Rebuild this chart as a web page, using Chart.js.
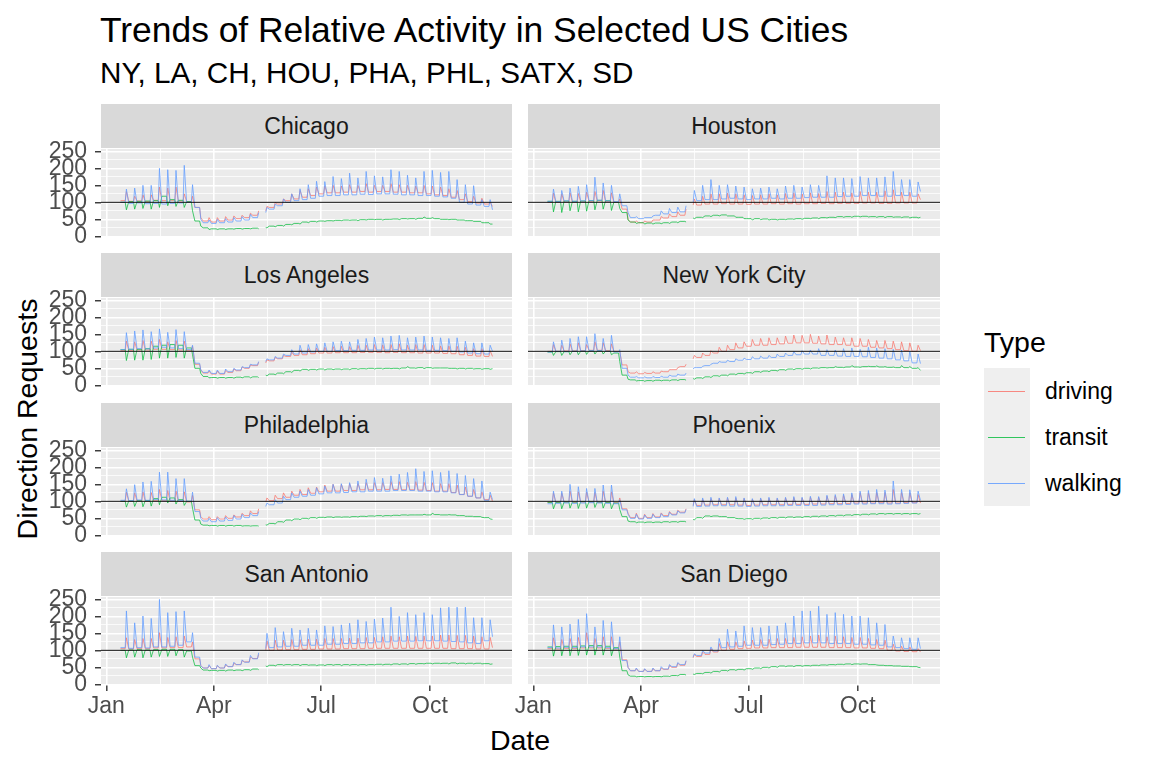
<!DOCTYPE html>
<html><head><meta charset="utf-8">
<script src="https://cdn.jsdelivr.net/npm/chart.js@4.4.1/dist/chart.umd.min.js"></script>
<style>
html,body{margin:0;padding:0;background:#fff;width:1152px;height:768px;overflow:hidden;font-family:"Liberation Sans",Arial,Helvetica,sans-serif;}
.abs{position:absolute;white-space:nowrap;}
#title{left:100px;top:12px;font-size:35.4px;line-height:36px;color:#000;}
#subtitle{left:100px;top:58px;font-size:29.7px;line-height:30px;color:#000;}
.strip{position:absolute;background:#D9D9D9;color:#1A1A1A;font-size:23px;line-height:23px;display:flex;align-items:center;justify-content:center;}
canvas{position:absolute;}
.legkey{position:absolute;height:1px;}
</style></head><body>
<div id="title" class="abs">Trends of Relative Activity in Selected US Cities</div>
<div id="subtitle" class="abs">NY, LA, CH, HOU, PHA, PHL, SATX, SD</div>
<div id="ylab" class="abs" style="left:27px;top:419px;font-size:28.5px;line-height:29px;transform:translate(-50%,-50%) rotate(-90deg);">Direction Requests</div>
<div id="xlab" class="abs" style="left:520px;top:740px;font-size:28.5px;line-height:29px;transform:translate(-50%,-50%);">Date</div>
<div class="abs" style="left:984px;top:328px;font-size:28.5px;line-height:29px;">Type</div>
<div class="abs" style="left:984px;top:368px;width:46px;height:138px;background:#EFEFEF;"></div>
<div id="legend"></div>
<div id="panels"></div>
<script>
// ---------------- DATA ----------------
const cities = ['Chicago','Houston','Los Angeles','New York City','Philadelphia','Phoenix','San Antonio','San Diego'];
const types = ['driving','transit','walking'];
const xTickValues = [0, 45.5, 91, 136.5, 182, 228, 274, 320];
const xTickLabels = {0:'Jan', 91:'Apr', 182:'Jul', 274:'Oct'};
const yTickValues = [0,25,50,75,100,125,150,175,200,225,250];
const firstMonday = 12;          // 13 Jan 2020 as day of year (0 = 1 Jan)
const missingDays = [131, 132];  // 11-12 May 2020 missing

// weekday level (Mon & Fri of each week, plus last Monday) and Saturday value per week
const chicagoWalkingBase = [100,97,98,96,97,95,97,98,100, 85,40,38,40,42,45,48,55, 70,80,90,100,105,108,112, 118,120,120,122,122,124,123,125,125,124,122,122,120, 120,118,116,112,100,95,92,88, 78];
const chicagoWalkingSat  = [139,142,150,150,200,196,194,209,152, 50,48,50,52,55,58,65,70, 85,95,110,125,140,152,162, 161,176,170,186,172,191,178,175,196,191,180,172,191, 194,188,191,167,152,149,108,108];
const chicagoDrivingBase = [105,103,104,102,106,105,106,104,102, 85,45,42,45,48,52,55,62, 75,85,95,105,110,115,120, 125,128,128,130,130,132,130,132,132,130,130,128,128, 125,122,120,115,108,102,98,95, 88];
const chicagoDrivingSat  = [132,118,122,122,145,142,145,125,118, 55,55,55,58,60,62,68,75, 88,100,110,125,135,140,145, 148,150,148,152,150,155,150,150,155,152,150,148,150, 148,145,140,135,125,118,112,100];
const chicagoTransitBase = [100,102,103,104,105,118,108,106,102, 45,25,22,22,22,23,23,24, 26,30,32,35,38,42,44, 45,46,47,48,48,49,50,50,50,51,52,52,53, 53,52,50,50,48,46,44,40, 36];
const chicagoTransitSat  = [78,80,82,80,85,90,88,85,75, 30,20,20,20,21,21,22,22, 25,28,30,34,36,40,42, 44,45,46,47,46,48,49,48,50,49,51,50,57, 55,50,49,48,46,44,40,36];

const houstonWalkingBase = [103,102,104,103,104,105,106,104,102, 90,55,52,55,62,66,70,72, 100,105,108,108,110,112,110, 108,110,110,112,110,112,112,114,115,115,115,117,118, 118,120,120,118,118,120,120,118, 132];
const houstonWalkingSat  = [139,135,142,147,152,174,157,150,125, 70,58,55,60,75,82,86,90, 135,150,167,150,152,148,145, 140,142,145,140,148,150,145,152,150,178,172,172,170, 176,172,172,175,191,167,167,160];
const houstonDrivingBase = [100,100,101,100,102,103,104,102,100, 80,42,40,42,48,54,58,62, 92,92,95,95,96,95,95, 94,95,95,96,95,96,95,96,96,97,96,97,97, 97,98,98,97,97,98,98,98, 108];
const houstonDrivingSat  = [127,125,128,126,130,132,135,128,110, 50,45,45,48,58,66,72,80, 110,118,125,125,127,125,122, 120,122,125,122,126,128,125,128,126,132,130,130,128, 132,130,130,134,137,130,130,125];
const houstonTransitBase = [103,103,104,103,104,105,106,105,100, 70,42,40,39,39,40,42,44, 54,56,60,62,63,60,56, 52,52,51,50,50,51,52,53,54,55,56,58,58, 59,59,58,58,58,57,57,56, 56];
const houstonTransitSat  = [72,70,75,72,74,78,80,76,82, 48,38,36,36,37,38,40,42, 52,55,58,60,60,56,52, 48,49,48,48,49,50,50,52,52,54,55,56,56, 57,57,56,55,56,55,54,54];

const laWalkingBase = [105,106,108,107,110,112,110,108,105, 65,38,35,35,40,45,52,60, 70,75,80,88,92,95,98, 100,100,102,102,103,103,104,104,104,105,104,104,104, 103,103,102,100,98,95,93,92, 100];
const laWalkingSat  = [155,160,163,158,166,156,164,158,118, 45,45,45,48,50,55,62,70, 78,85,92,105,118,120,122, 125,128,130,128,135,138,142,140,145,147,140,142,145, 142,140,138,140,130,125,125,118];
const laDrivingBase = [102,103,104,104,106,106,105,104,102, 62,36,33,33,38,43,50,58, 66,72,78,85,88,90,93, 95,95,96,96,96,97,97,97,96,97,96,96,95, 95,95,94,93,90,88,86,85, 85];
const laDrivingSat  = [130,128,132,130,135,128,132,130,115, 45,42,42,44,48,54,60,68, 75,82,88,98,105,108,110, 112,114,115,114,118,118,120,119,120,122,118,120,120, 118,116,116,115,112,108,108,102];
const laTransitBase = [105,106,106,108,115,118,120,118,110, 50,26,23,23,23,24,25,25, 30,33,36,40,44,47,47, 48,48,48,48,49,49,50,50,50,50,51,51,52, 52,51,51,50,50,50,49,49, 49];
const laTransitSat  = [73,74,74,76,80,80,82,80,90, 35,22,21,21,21,22,22,23, 28,31,34,38,42,44,45, 45,46,46,46,47,48,48,48,49,48,55,50,49, 50,51,50,48,48,48,47,47];

const nycWalkingBase = [98,100,99,100,101,102,102,100,98, 50,24,22,22,23,24,27,30, 48,52,58,65,68,70,74, 76,78,80,82,85,88,90,92,92,88,88,86,85, 85,84,82,80,78,75,72,66, 64];
const nycWalkingSat  = [128,133,138,143,143,152,138,147,105, 30,26,25,26,27,30,33,36, 52,56,62,70,74,78,80, 84,86,88,92,95,100,102,104,108,105,104,108,110, 106,112,110,108,106,104,100,92];
const nycDrivingBase = [100,100,101,101,102,103,103,102,100, 60,36,34,35,36,40,46,55, 78,82,88,95,100,105,110, 115,118,118,120,122,124,125,125,124,122,120,120,118, 115,115,112,110,108,105,102,100, 102];
const nycDrivingSat  = [120,118,122,125,120,128,125,122,100, 40,40,38,40,42,46,52,62, 88,95,102,112,118,125,128, 135,138,140,140,145,148,147,150,145,148,142,140,140, 138,135,132,132,130,128,125,118];
const nycTransitBase = [98,99,99,100,100,101,101,100,95, 30,16,14,14,15,15,16,17, 20,22,25,28,30,33,35, 37,40,42,44,46,48,49,50,51,52,52,53,54, 54,55,55,54,53,52,52,50, 44];
const nycTransitSat  = [88,88,90,90,91,92,92,90,70, 18,13,12,12,13,13,14,15, 18,20,23,26,28,31,33, 35,38,40,42,44,46,47,48,50,51,55,52,58, 53,56,57,55,54,58,55,52];

const phlWalkingBase = [103,102,104,103,105,104,103,102,100, 70,42,40,42,44,48,52,58, 85,90,95,105,112,115,118, 122,125,125,126,128,128,130,130,130,132,132,132,130, 130,128,128,125,120,115,110,103, 105];
const phlWalkingSat  = [137,149,157,159,186,186,167,167,127, 50,50,52,54,58,62,66,70, 95,105,115,125,130,135,140, 145,150,152,155,160,165,170,168,175,180,185,196,188, 190,185,190,182,176,167,160,127];
const phlDrivingBase = [100,100,101,100,102,102,101,100,98, 75,48,46,48,50,54,58,64, 98,102,108,112,118,120,124, 128,130,130,132,132,134,134,134,135,135,134,134,133, 132,130,130,126,120,115,110,105, 100];
const phlDrivingSat  = [127,125,128,126,135,132,130,128,118, 55,55,55,58,60,65,72,78, 110,118,125,130,135,140,142, 148,150,150,152,152,155,155,155,158,158,156,158,156, 155,152,152,148,142,135,128,118];
const phlTransitBase = [100,101,102,102,108,112,110,105,100, 45,30,29,29,29,29,28,28, 31,35,40,45,48,50,52, 53,54,54,54,55,56,57,58,58,59,60,60,60, 60,61,60,60,58,56,55,52, 47];
const phlTransitSat  = [83,85,84,86,90,95,92,88,80, 33,28,27,27,27,27,27,27, 30,33,38,43,46,48,50, 52,52,53,53,54,55,56,56,57,58,59,60,62, 65,60,61,58,56,55,53,48];

const phxWalkingBase = [93,94,95,94,95,96,95,94,93, 75,50,48,50,52,55,60,66, 85,85,86,87,87,86,86, 85,86,87,87,87,88,88,88,88,89,90,90,91, 92,92,93,93,92,93,94,95, 103];
const phxWalkingSat  = [130,130,150,143,138,138,148,148,105, 62,62,60,62,64,68,72,76, 108,110,112,110,112,114,110, 108,110,112,110,112,114,112,115,114,118,120,122,125, 130,132,135,133,160,135,134,130];
const phxDrivingBase = [97,97,98,97,98,98,97,97,96, 78,52,50,52,54,58,62,68, 88,88,89,90,90,90,89, 88,89,90,90,90,91,91,91,92,92,93,93,94, 95,95,95,96,95,95,96,96, 95];
const phxDrivingSat  = [125,124,130,128,127,126,130,128,110, 65,65,62,64,66,70,74,78, 105,106,108,108,110,110,108, 106,108,109,108,110,111,110,112,112,115,116,118,120, 125,125,126,126,135,126,125,120];
const phxTransitBase = [97,97,98,98,99,99,98,97,95, 55,40,39,39,39,40,40,41, 47,52,57,57,55,52,49, 49,50,51,52,53,54,54,55,56,57,58,59,60, 61,62,63,64,64,64,64,64, 64];
const phxTransitSat  = [78,78,80,79,80,82,80,78,76, 42,37,37,37,37,38,38,39, 45,50,55,55,52,50,47, 47,48,49,50,51,52,52,53,54,55,56,57,58, 59,60,61,62,62,62,62,62];

const satxWalkingBase = [108,106,108,107,110,110,112,115,125, 80,48,46,48,52,58,65,75, 105,108,110,112,112,115,115, 115,118,118,120,120,122,122,125,125,127,127,127,128, 128,128,127,126,125,122,120,128, 140];
const satxWalkingSat  = [216,181,201,194,250,211,214,216,152, 55,58,56,60,65,72,85,93, 150,167,155,165,160,165,160, 172,170,175,180,190,185,192,195,227,200,211,205,211, 205,225,227,227,227,196,196,190];
const satxDrivingBase = [105,104,105,105,107,107,108,108,110, 75,48,46,48,52,58,66,76, 100,100,101,102,102,103,103, 104,104,104,105,105,105,106,106,106,106,106,106,106, 106,106,106,105,105,105,104,104, 108];
const satxDrivingSat  = [137,132,135,135,152,138,140,142,125, 55,55,55,58,62,70,80,88, 128,130,130,132,132,133,133, 135,135,135,136,136,138,138,140,142,140,142,141,142, 142,145,145,144,144,142,140,138];
const satxTransitBase = [100,101,102,101,102,103,103,102,98, 55,42,41,41,42,42,43,45, 54,56,58,58,58,58,57, 57,58,58,58,58,58,58,59,59,60,60,61,61, 62,62,62,63,62,62,62,61, 60];
const satxTransitSat  = [78,80,78,80,82,82,84,80,80, 48,40,39,39,40,40,41,43, 52,54,56,56,55,56,55, 55,56,55,56,56,56,57,57,57,58,58,59,60, 60,61,60,60,60,60,60,59];

const sdWalkingBase = [108,107,109,108,110,110,110,108,105, 70,40,38,38,40,45,52,58, 80,85,92,98,108,110,112, 115,115,115,117,118,120,120,122,122,122,120,120,120, 118,118,116,115,110,108,105,103, 105];
const sdWalkingSat  = [175,169,177,191,208,169,188,184,140, 50,48,46,48,52,58,64,70, 90,100,110,135,162,157,172, 167,167,172,172,181,201,216,216,230,206,211,206,201, 201,196,181,176,142,137,137,137];
const sdDrivingBase = [105,104,106,105,107,107,107,106,104, 72,40,38,38,40,44,50,56, 78,82,88,95,100,103,105, 106,107,107,108,108,108,109,109,109,109,108,108,108, 107,107,106,105,100,98,97,96, 95];
const sdDrivingSat  = [137,132,135,138,152,135,140,140,125, 50,46,45,46,48,55,62,68, 88,95,105,120,125,125,128, 130,132,133,135,135,138,140,142,145,140,142,140,138, 138,135,132,130,118,112,110,105];
const sdTransitBase = [110,111,112,112,113,114,114,112,108, 40,24,23,23,23,24,26,29, 30,32,35,38,41,43,44, 46,48,50,52,54,54,55,55,56,57,58,59,60, 60,60,58,56,55,54,53,52, 49];
const sdTransitSat  = [83,84,84,85,86,86,86,84,80, 28,22,22,22,22,23,25,27, 29,31,33,36,39,41,42, 44,46,48,50,52,52,53,54,55,56,57,58,58, 59,58,57,55,54,53,52,50];

// ---------------- BUILD ----------------
const cityData = {
  'Chicago':      {driving:[chicagoDrivingBase,chicagoDrivingSat], transit:[chicagoTransitBase,chicagoTransitSat], walking:[chicagoWalkingBase,chicagoWalkingSat]},
  'Houston':      {driving:[houstonDrivingBase,houstonDrivingSat], transit:[houstonTransitBase,houstonTransitSat], walking:[houstonWalkingBase,houstonWalkingSat]},
  'Los Angeles':  {driving:[laDrivingBase,laDrivingSat], transit:[laTransitBase,laTransitSat], walking:[laWalkingBase,laWalkingSat]},
  'New York City':{driving:[nycDrivingBase,nycDrivingSat], transit:[nycTransitBase,nycTransitSat], walking:[nycWalkingBase,nycWalkingSat]},
  'Philadelphia': {driving:[phlDrivingBase,phlDrivingSat], transit:[phlTransitBase,phlTransitSat], walking:[phlWalkingBase,phlWalkingSat]},
  'Phoenix':      {driving:[phxDrivingBase,phxDrivingSat], transit:[phxTransitBase,phxTransitSat], walking:[phxWalkingBase,phxWalkingSat]},
  'San Antonio':  {driving:[satxDrivingBase,satxDrivingSat], transit:[satxTransitBase,satxTransitSat], walking:[satxWalkingBase,satxWalkingSat]},
  'San Diego':    {driving:[sdDrivingBase,sdDrivingSat], transit:[sdTransitBase,sdTransitSat], walking:[sdWalkingBase,sdWalkingSat]}
};

function buildSeries(base, sat){
  const pts = [];
  for (let k = 0; k < sat.length; k++){
    const mon = firstMonday + 7*k, fri = mon + 4, sa = mon + 5;
    pts.push({x: mon, y: missingDays.includes(mon) ? null : (base[k] ?? null)});
    pts.push({x: fri, y: base[k] ?? null});
    pts.push({x: sa, y: sat[k]});
  }
  const lastMon = firstMonday + 7*sat.length;
  if (base[sat.length] !== undefined) pts.push({x: lastMon, y: base[sat.length]});
  return pts;
}

const typeColors = {driving:'rgba(248,118,109,0.85)', transit:'rgba(0,186,56,0.8)', walking:'rgba(97,156,255,0.85)'};
const typeOrder = {driving:2, transit:1, walking:0};

// legend
const leg = document.getElementById('legend');
types.forEach((t,i)=>{
  const cy = 391 + i*46;
  const l = document.createElement('div'); l.className='legkey';
  l.style.cssText = `left:988px;top:${cy}px;width:37px;background:${typeColors[t]};`;
  leg.appendChild(l);
  const tx = document.createElement('div'); tx.className='abs';
  tx.style.cssText = `left:1045px;top:${cy-13}px;font-size:23px;line-height:26px;color:#000;`;
  tx.textContent = t; leg.appendChild(tx);
});

Chart.defaults.font.family = '"Liberation Sans", Arial, Helvetica, sans-serif';

const colLeft = [101, 528], colRight = [512, 940];
const rowTop = [149, 298, 448, 597], panelH = 88, M = 28;
const panelsDiv = document.getElementById('panels');

const bgPlugin = {
  id:'panelbg',
  beforeDraw(chart){
    const a = chart.chartArea, c = chart.ctx;
    c.save(); c.fillStyle = '#EBEBEB'; c.fillRect(a.left, a.top, a.right-a.left, a.bottom-a.top); c.restore();
  },
  afterDatasetsDraw(chart){
    const a = chart.chartArea, c = chart.ctx, y = chart.scales.y.getPixelForValue(100);
    c.save(); c.strokeStyle = '#111'; c.lineWidth = 1;
    c.beginPath(); c.moveTo(a.left, y); c.lineTo(a.right, y); c.stroke(); c.restore();
  }
};

cities.forEach((city, i)=>{
  const col = i % 2, row = Math.floor(i/2);
  const bottom = row === 3;
  // strip
  const s = document.createElement('div'); s.className='strip';
  s.style.left = colLeft[col]+'px'; s.style.top = (rowTop[row]-45)+'px';
  s.style.width = (colRight[col]-colLeft[col])+'px'; s.style.height = '44px';
  s.textContent = city; panelsDiv.appendChild(s);
  // canvas
  const cx = col === 0 ? 0 : colLeft[col]-20;
  const cw = colRight[col] + 14 - cx;
  const ch = M + panelH + (bottom ? 44 : M);
  const cv = document.createElement('canvas');
  cv.width = cw; cv.height = ch;
  cv.style.left = cx+'px'; cv.style.top = (rowTop[row]-M)+'px';
  cv.style.width = cw+'px'; cv.style.height = ch+'px';
  panelsDiv.appendChild(cv);

  const datasets = types.map(t => ({
    label: t,
    data: buildSeries(cityData[city][t][0], cityData[city][t][1]),
    borderColor: typeColors[t], borderWidth: 0.9, pointRadius: 0,
    tension: 0, spanGaps: false, fill: false, order: typeOrder[t]
  }));

  new Chart(cv, {
    type: 'line',
    data: {datasets},
    plugins: [bgPlugin],
    options: {
      responsive: false, animation: false, devicePixelRatio: 1,
      layout: {padding: {top: M, right: 14, bottom: bottom ? 0 : M, left: col === 0 ? 0 : 20}},
      plugins: {legend: {display: false}, tooltip: {enabled: false}},
      scales: {
        x: {
          type: 'linear', min: -4.5, max: 343.5,
          afterBuildTicks: sc => { sc.ticks = xTickValues.map(v => ({value: v})); },
          afterFit: sc => { sc.height = bottom ? 44 : 0; },
          ticks: {display: bottom, autoSkip: false, maxRotation: 0, minRotation: 0,
            color: '#4D4D4D', font: {size: 23}, padding: 2,
            callback: v => xTickLabels[v] || ''},
          grid: {color: '#FFFFFF', drawTicks: bottom, tickLength: 6,
            lineWidth: ctx => (ctx.tick && xTickLabels[ctx.tick.value]) ? 1.6 : 0.8,
            tickColor: ctx => (ctx.tick && xTickLabels[ctx.tick.value]) ? '#333333' : 'rgba(0,0,0,0)',
            tickWidth: 1.4},
          border: {display: false}
        },
        y: {
          min: -2, max: 257,
          afterBuildTicks: sc => { sc.ticks = yTickValues.map(v => ({value: v})); },
          afterFit: sc => { sc.width = col === 0 ? 101 : 0; },
          ticks: {display: col === 0, autoSkip: false, color: '#4D4D4D', font: {size: 23}, padding: 8,
            callback: v => (v % 50 === 0 ? String(v) : '')},
          grid: {color: '#FFFFFF', drawTicks: col === 0, tickLength: 6,
            lineWidth: ctx => (ctx.tick && ctx.tick.value % 50 === 0) ? 1.5 : 0.75,
            tickColor: ctx => (ctx.tick && ctx.tick.value % 50 === 0) ? '#333333' : 'rgba(0,0,0,0)',
            tickWidth: 1.4},
          border: {display: false}
        }
      }
    }
  });
});
</script>
</body></html>
